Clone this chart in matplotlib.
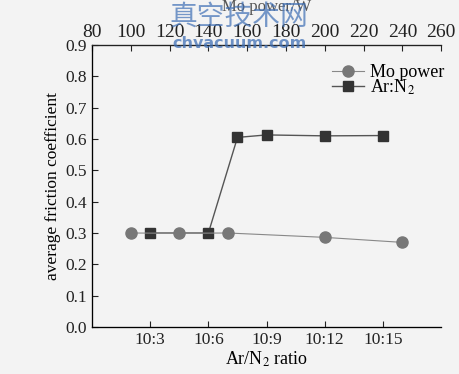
import matplotlib
matplotlib.use('Agg')
import matplotlib.pyplot as plt

# Ar:N2 series (bottom axis, ratio 10:x)
ratio_x = [3, 6, 7.5, 9, 12, 15]
ratio_mu = [0.30, 0.30, 0.605, 0.613, 0.610, 0.611]

# Mo power series (top axis, W)
power_x = [100, 125, 150, 200, 240]
power_mu = [0.300, 0.299, 0.300, 0.286, 0.270]

ratio_ticks = [3, 6, 9, 12, 15]
ratio_labels = ['10:3', '10:6', '10:9', '10:12', '10:15']
power_ticks = list(range(80, 261, 20))

plt.rcParams['font.family'] = ['Liberation Serif', 'DejaVu Serif']
plt.rcParams['font.size'] = 12
plt.rcParams['mathtext.fontset'] = 'stix'

fig = plt.figure(figsize=(4.6, 3.74), dpi=100)
fig.patch.set_facecolor('#f3f3f3')
ax = fig.add_axes([0.2, 0.1257, 0.759, 0.754])
ax.set_facecolor('none')

# bottom axis: Ar/N2 ratio
ax.set_xlim(0, 18)
ax.set_ylim(0, 0.9)
ax.set_xticks(ratio_ticks)
ax.set_xticklabels(ratio_labels, fontsize=12.5)
ax.set_yticks([i / 10 for i in range(10)])
ax.set_yticklabels(['%.1f' % (i / 10) for i in range(10)], fontsize=12.5)
ax.tick_params(direction='in', length=4, width=0.8, colors='#222222')
ax.spines['right'].set_visible(False)
for s in ['left', 'bottom', 'top']:
    ax.spines[s].set_color('#222222')
    ax.spines[s].set_linewidth(0.9)
ax.set_xlabel('Ar/N$_2$ ratio', labelpad=1, fontsize=13)
ax.set_ylabel('average friction coefficient', labelpad=3, fontsize=12.5)

sq, = ax.plot(ratio_x, ratio_mu, '-s', color='#555555', lw=1.0,
              markersize=7, markerfacecolor='#333333', markeredgecolor='#333333',
              label='Ar:N$_2$')

# top axis: Mo power
top = ax.twiny()
top.set_xlim(80, 260)
top.set_xticks(power_ticks)
top.tick_params(direction='in', length=4, width=0.8, colors='#222222',
                pad=3, labelsize=14)
top.spines['right'].set_visible(False)
top.spines['top'].set_color('#222222')
top.set_xlabel('Mo power/W', labelpad=9, color='#555555', fontsize=12)

ci, = top.plot(power_x, power_mu, '-o', color='#888888', lw=0.8,
               markersize=8, markerfacecolor='#777777', markeredgecolor='#777777',
               label='Mo power')

top.legend(handles=[ci, sq], loc='upper right', bbox_to_anchor=(1.055, 0.99),
           frameon=False, fontsize=13, handlelength=1.8, handletextpad=0.3,
           labelspacing=-0.2)

# site watermark
fig.text(0.52, 0.955, '真空技术网', family=['Noto Sans CJK SC', 'DejaVu Sans'],
         fontsize=20, color='#3f6fb5', alpha=0.7, ha='center', va='center')
fig.text(0.52, 0.883, 'chvacuum.com', fontsize=11.5, fontweight='bold',
         family=['DejaVu Sans'], color='#3f6fb5', alpha=0.75,
         ha='center', va='center')

fig.savefig('out.png', dpi=100, facecolor=fig.get_facecolor())
